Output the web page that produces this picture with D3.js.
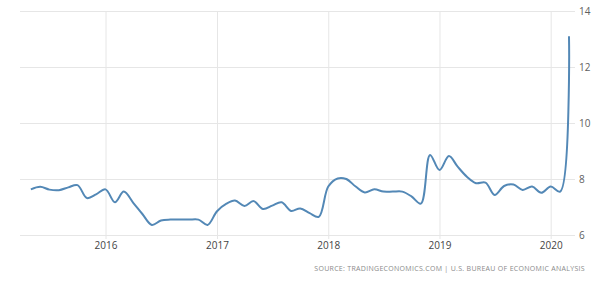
<!DOCTYPE html>
<html>
<head>
<meta charset="utf-8">
<script src="https://cdn.jsdelivr.net/npm/d3@7"></script>
<style>
  body { margin: 0; background: #fff; }
  #chart svg { display: block; }
</style>
</head>
<body>
<div id="chart"></div>
<script>
// monthly values, May 2015 .. Mar 2020
const months = [
  "2015-05", "2015-06", "2015-07", "2015-08", "2015-09", "2015-10", "2015-11", "2015-12",
  "2016-01", "2016-02", "2016-03", "2016-04", "2016-05", "2016-06", "2016-07", "2016-08", "2016-09", "2016-10", "2016-11", "2016-12",
  "2017-01", "2017-02", "2017-03", "2017-04", "2017-05", "2017-06", "2017-07", "2017-08", "2017-09", "2017-10", "2017-11", "2017-12",
  "2018-01", "2018-02", "2018-03", "2018-04", "2018-05", "2018-06", "2018-07", "2018-08", "2018-09", "2018-10", "2018-11", "2018-12",
  "2019-01", "2019-02", "2019-03", "2019-04", "2019-05", "2019-06", "2019-07", "2019-08", "2019-09", "2019-10", "2019-11", "2019-12",
  "2020-01", "2020-02", "2020-03",
];
const values = [
  7.63, 7.72, 7.62, 7.6, 7.7, 7.78, 7.32, 7.45,
  7.63, 7.17, 7.55, 7.15, 6.75, 6.36, 6.52, 6.55, 6.55, 6.55, 6.55, 6.36,
  6.85, 7.12, 7.23, 7.04, 7.21, 6.93, 7.05, 7.17, 6.86, 6.95, 6.78, 6.65,
  7.73, 8.02, 8.0, 7.73, 7.52, 7.63, 7.55, 7.55, 7.55, 7.38, 7.12, 8.86,
  8.32, 8.82, 8.45, 8.08, 7.85, 7.87, 7.43, 7.75, 7.8, 7.61, 7.73, 7.51,
  7.73, 7.55, 13.1,
];
const yTicks = [6, 8, 10, 12, 14];
const xTickYears = [2016, 2017, 2018, 2019, 2020];
const sourceText = "SOURCE: TRADINGECONOMICS.COM | U.S. BUREAU OF ECONOMIC ANALYSIS";

const width = 600;
const height = 283;
const parseMonth = d3.timeParse("%Y-%m");
const data = months.map((m, i) => ({ date: parseMonth(m), value: values[i] }));

const svg = d3.select("#chart").append("svg")
  .attr("width", width)
  .attr("height", height);

const xScale = d3.scaleTime()
  .domain([new Date(2016, 0, 1), new Date(2020, 0, 1)])
  .range([105.5, 550.7]);
const yScale = d3.scaleLinear().domain([6, 14]).range([235, 11]);

const plotLeft = 20;
const plotRight = 575;

// horizontal grid + right labels
const yAxis = d3.axisRight(yScale)
  .tickValues(yTicks)
  .tickSize(plotRight - plotLeft)
  .tickPadding(4)
  .tickFormat(d3.format("d"));
const yG = svg.append("g")
  .attr("transform", `translate(${plotLeft},0)`)
  .call(yAxis);
yG.select(".domain").remove();
yG.selectAll("line").attr("stroke", "#e6e6e6");
yG.selectAll("text")
  .attr("fill", "#606060")
  .style("font-family", "'Open Sans', sans-serif")
  .style("font-size", "10px");

// vertical grid + year labels
const xAxis = d3.axisBottom(xScale)
  .tickValues(xTickYears.map((y) => new Date(y, 0, 1)))
  .tickSize(228)
  .tickPadding(3)
  .tickFormat(d3.timeFormat("%Y"));
const xG = svg.append("g")
  .attr("transform", "translate(0,11)")
  .call(xAxis);
xG.select(".domain").remove();
xG.selectAll("line").attr("stroke", "#e6e6e6");
xG.selectAll("text")
  .attr("fill", "#444")
  .style("font-family", "'Open Sans', sans-serif")
  .style("font-size", "10px");

const line = d3.line()
  .x((d) => xScale(d.date))
  .y((d) => yScale(d.value))
  .curve(d3.curveCatmullRom.alpha(0.5));

svg.append("path")
  .datum(data)
  .attr("fill", "none")
  .attr("stroke", "#5388b6")
  .attr("stroke-width", 2)
  .attr("stroke-linejoin", "round")
  .attr("d", line);

svg.append("text")
  .text(sourceText)
  .attr("x", 585)
  .attr("y", 271)
  .attr("text-anchor", "end")
  .attr("fill", "#8a8a8a")
  .style("font-family", "'Open Sans', sans-serif")
  .style("font-size", "7px")
  .style("letter-spacing", "0.3px");
</script>
</body>
</html>
